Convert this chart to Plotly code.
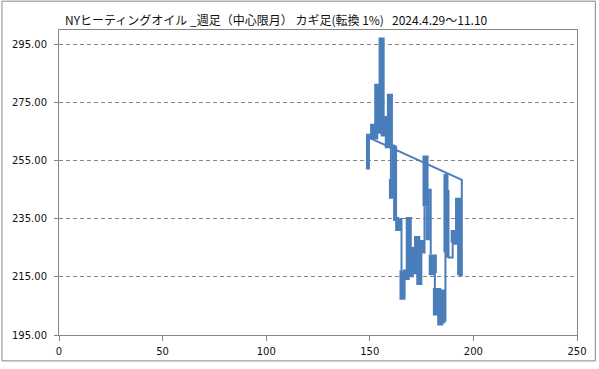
import plotly.graph_objects as go

# Kagi path vertices (x index, price) and kind of the segment that ends at each vertex
kagi_x = [149.1, 149.1, 150.1, 150.1, 151.1, 151.1, 152.1, 152.1, 153.1, 153.1,
          154.1, 154.1, 155.2, 155.2, 156.2, 156.2, 157.2, 157.2, 158.2, 158.2,
          159.2, 159.2, 160.2, 160.2, 160.2, 160.2, 161.2, 161.2, 162.2, 162.2,
          163.2, 163.2, 164.3, 164.3, 165.3, 165.3, 165.3, 166.3, 166.3, 167.3,
          167.3, 168.3, 168.3, 169.3, 169.3, 170.3, 170.3, 171.3, 171.3, 172.3,
          172.3, 173.4, 173.4, 174.4, 174.4, 175.4, 175.4, 176.4, 176.4, 176.4,
          177.4, 177.4, 177.4, 178.4, 178.4, 179.4, 179.4, 179.4, 180.4, 180.4,
          181.4, 181.4, 181.4, 181.4, 182.5, 182.5, 183.5, 183.5, 184.5, 184.5,
          185.5, 185.5, 186.5, 186.5, 186.5, 187.5, 187.5, 187.5, 190.0, 190.0,
          190.0, 191.0, 191.0, 192.1, 192.1, 193.1, 193.1, 194.4, 194.4, 150.1]
kagi_y = [252.0, 263.6, 263.6, 263.0, 263.0, 267.0, 267.0, 263.0, 263.0, 280.8,
          280.8, 265.0, 265.0, 296.7, 296.7, 264.0, 264.0, 269.7, 269.7, 260.0,
          260.0, 277.4, 277.4, 259.5, 248.7, 242.6, 242.6, 260.2, 260.2, 234.9,
          234.9, 231.5, 231.5, 234.9, 234.9, 217.3, 207.8, 207.8, 217.3, 217.3,
          214.6, 214.6, 234.9, 234.9, 215.6, 215.6, 224.7, 224.7, 216.6, 216.6,
          228.4, 228.4, 212.9, 212.9, 227.0, 227.0, 223.4, 223.4, 239.3, 256.1,
          256.1, 239.3, 228.0, 228.0, 245.0, 245.0, 222.7, 216.3, 216.3, 222.0,
          222.0, 216.3, 211.2, 202.4, 202.4, 210.5, 210.5, 199.0, 199.0, 210.0,
          210.0, 199.7, 199.7, 223.4, 250.4, 250.4, 245.0, 221.7, 221.7, 226.8,
          230.5, 230.5, 226.8, 226.8, 241.6, 241.6, 215.6, 215.6, 248.4, 262.8]
kagi_kind = ["", "yang", "yang", "yang", "yang", "yang", "yang", "yang", "yang", "yang",
             "yang", "yang", "yang", "yang", "yang", "yang", "yang", "yang", "yang", "yang",
             "yang", "yang", "yang", "yang", "yin", "yang", "yang", "yin", "yin", "yang",
             "yang", "yang", "yang", "yang", "yin", "yin", "yang", "yang", "yang", "yin",
             "yang", "yang", "yang", "yang", "yang", "yang", "yang", "yang", "yang", "yang",
             "yang", "yang", "yang", "yang", "yang", "yang", "yang", "yin", "yin", "yang",
             "yang", "yang", "yin", "yin", "yin", "yin", "yin", "yang", "yang", "yang",
             "yang", "yang", "yin", "yang", "yang", "yang", "yang", "yang", "yang", "yang",
             "yang", "yang", "yang", "yin", "yang", "yin", "yin", "yang", "yin", "yin",
             "yang", "yang", "yang", "yang", "yang", "yang", "yang", "yin", "yin", "yin"]

y_ticks = [195, 215, 235, 255, 275, 295]
x_ticks = [0, 50, 100, 150, 200, 250]
title_text = "NYヒーティングオイル _週足（中心限月） カギ足(転換 1%)   2024.4.29～11.10"

COLOR = "#4A7EBB"


def build(kind):
    xs, ys = [], []
    for i in range(1, len(kagi_x)):
        if kagi_kind[i] != kind:
            continue
        if xs and xs[-1] == kagi_x[i - 1] and ys[-1] == kagi_y[i - 1]:
            xs.append(kagi_x[i]); ys.append(kagi_y[i])
        else:
            if xs:
                xs.append(None); ys.append(None)
            xs += [kagi_x[i - 1], kagi_x[i]]
            ys += [kagi_y[i - 1], kagi_y[i]]
    return xs, ys


yin_x, yin_y = build("yin")
yang_x, yang_y = build("yang")

fig = go.Figure()
fig.add_trace(go.Scatter(x=yin_x, y=yin_y, mode="lines", connectgaps=False,
                         line=dict(color=COLOR, width=2), hoverinfo="skip", showlegend=False))
fig.add_trace(go.Scatter(x=yang_x, y=yang_y, mode="lines", connectgaps=False,
                         line=dict(color=COLOR, width=4), hoverinfo="skip", showlegend=False))

L, R, T, B = 58, 19, 30, 27
W, H = 599, 369
pw, ph = W - L - R, H - T - B

axis_font = dict(family="DejaVu Sans", size=10, color="#111111")
fig.update_layout(
    width=W, height=H,
    margin=dict(l=L, r=R, t=T, b=B, pad=0),
    paper_bgcolor="white", plot_bgcolor="white",
    showlegend=False,
    xaxis=dict(range=[0, 250], tickvals=x_ticks, ticktext=[str(v) for v in x_ticks],
               showgrid=False, zeroline=False, showline=True, mirror=True,
               linecolor="#868686", linewidth=1, ticks="outside", ticklen=5,
               tickcolor="#868686", tickfont=axis_font, fixedrange=True,
               ticklabelstandoff=2),
    yaxis=dict(range=[195, 300], tickvals=y_ticks, ticktext=[f"{v:.2f}" for v in y_ticks],
               showgrid=True, gridcolor="#868686", griddash="4px,3px", gridwidth=1,
               zeroline=False, showline=True, mirror=True,
               linecolor="#868686", linewidth=1, ticks="outside", ticklen=4,
               tickcolor="#868686", tickfont=axis_font, fixedrange=True,
               ticklabelstandoff=5),
    shapes=[dict(type="rect", xref="paper", yref="paper",
                 x0=(0.5 - L) / pw, x1=(W - 0.5 - L) / pw,
                 y0=-(B - 0.5) / ph, y1=1 + (T - 0.5) / ph,
                 line=dict(color="#868686", width=1), fillcolor="rgba(0,0,0,0)",
                 layer="below")],
    annotations=[dict(text=title_text, xref="paper", yref="paper",
                      x=(62 - L) / pw, y=1 + (T - 19) / ph, xanchor="left", yanchor="middle",
                      showarrow=False,
                      font=dict(family="Noto Sans CJK JP", size=12, color="#111111"))],
)

fig.write_html("out.html")
